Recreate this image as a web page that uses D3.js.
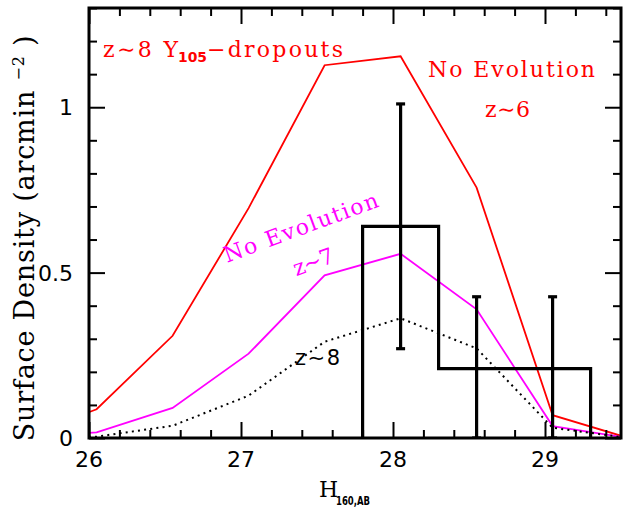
<!DOCTYPE html>
<html>
<head>
<meta charset="utf-8">
<script src="https://cdn.jsdelivr.net/npm/d3@7"></script>
<style>
  body { margin: 0; background: #fff; }
  svg { display: block; }
</style>
</head>
<body>
<svg id="chart" width="623" height="513"></svg>
<script>
// Model surface densities on the H160 magnitude grid (arcmin^-2)
const magGrid   = [25.55, 26.05, 26.55, 27.05, 27.55, 28.05, 28.55, 29.05, 29.55];
const noEvolZ6  = [0.0, 0.087, 0.309, 0.695, 1.127, 1.154, 0.757, 0.069, 0.0];
const noEvolZ7  = [0.0, 0.017, 0.091, 0.255, 0.492, 0.557, 0.389, 0.036, 0.0];
const modelZ8   = [0.0, 0.004, 0.037, 0.128, 0.291, 0.362, 0.271, 0.031, 0.0];

// Observed z~8 Y105-dropout surface densities
const binEdges   = [27.8, 28.3, 28.8, 29.3];
const binDensity = [0.64, 0.21, 0.21];
const binCenters = [28.05, 28.55, 29.05];
const errLow     = [0.27, 0.0, 0.0];
const errHigh    = [1.01, 0.427, 0.427];

// Axis ticks
const xTicks = [26, 27, 28, 29];
const xTickLabels = ["26", "27", "28", "29"];
const yTicks = [0, 0.5, 1];
const yTickLabels = ["0", "0.5", "1"];

const svg = d3.select("#chart");
const L = 89, R = 621, T = 8, B = 438;

const x = d3.scaleLinear().domain([26, 29.5]).range([L, R]);
const y = d3.scaleLinear().domain([0, 1.3]).range([B, T]);

const xMinor = d3.range(26, 29.51, 0.2).map(v => +v.toFixed(1)).filter(v => !xTicks.includes(v));
const yMinor = d3.range(0, 1.31, 0.1).map(v => +v.toFixed(1)).filter(v => !yTicks.includes(v));

svg.append("clipPath").attr("id", "plotClip")
  .append("rect").attr("x", L).attr("y", T).attr("width", R - L).attr("height", B - T);

const plot = svg.append("g").attr("clip-path", "url(#plotClip)");

const line = d3.line().x(d => x(d[0])).y(d => y(d[1]));
const pairs = vals => magGrid.map((m, i) => [m, vals[i]]);

plot.append("path").attr("d", line(pairs(noEvolZ6)))
  .attr("fill", "none").attr("stroke", "#ff0000").attr("stroke-width", 1.8);
plot.append("path").attr("d", line(pairs(noEvolZ7)))
  .attr("fill", "none").attr("stroke", "#ff00ff").attr("stroke-width", 1.8);
plot.append("path").attr("d", line(pairs(modelZ8)))
  .attr("fill", "none").attr("stroke", "#000").attr("stroke-width", 2)
  .attr("stroke-dasharray", "2 4.2");

// Stepped histogram of the observed densities
const steps = [[binEdges[0], 0]];
binDensity.forEach((v, i) => { steps.push([binEdges[i], v]); steps.push([binEdges[i + 1], v]); });
steps.push([binEdges[binEdges.length - 1], 0]);
plot.append("path").attr("d", line(steps))
  .attr("fill", "none").attr("stroke", "#000").attr("stroke-width", 3.2)
  .attr("stroke-linejoin", "miter");

// Error bars
const eb = plot.append("g").attr("stroke", "#000").attr("stroke-width", 3.2);
binCenters.forEach((c, i) => {
  eb.append("line").attr("x1", x(c)).attr("x2", x(c)).attr("y1", y(errLow[i])).attr("y2", y(errHigh[i]));
  [errLow[i], errHigh[i]].forEach(v => {
    eb.append("line").attr("x1", x(c) - 4.5).attr("x2", x(c) + 4.5).attr("y1", y(v)).attr("y2", y(v));
  });
});

// Inward ticks on all four sides
function ticks(axis, vals, size, transform) {
  const g = svg.append("g").attr("transform", transform)
    .call(axis.tickValues(vals).tickSize(-size).tickFormat(""));
  g.select(".domain").remove();
  g.selectAll(".tick line").attr("stroke", "#000").attr("stroke-width", 2);
  g.selectAll(".tick text").remove();
}
ticks(d3.axisBottom(x), xTicks, 16, `translate(0,${B})`);
ticks(d3.axisBottom(x), xMinor, 8, `translate(0,${B})`);
ticks(d3.axisTop(x), xTicks, 16, `translate(0,${T})`);
ticks(d3.axisTop(x), xMinor, 8, `translate(0,${T})`);
ticks(d3.axisLeft(y), yTicks, 16, `translate(${L},0)`);
ticks(d3.axisLeft(y), yMinor, 8, `translate(${L},0)`);
ticks(d3.axisRight(y), yTicks, 16, `translate(${R},0)`);
ticks(d3.axisRight(y), yMinor, 8, `translate(${R},0)`);

svg.append("rect").attr("x", L).attr("y", T).attr("width", R - L).attr("height", B - T)
  .attr("fill", "none").attr("stroke", "#000").attr("stroke-width", 3);

// Tick labels
const tickFont = "DejaVu Sans, sans-serif";
svg.append("g").selectAll("text").data(xTicks).join("text")
  .attr("x", d => x(d)).attr("y", 467)
  .attr("text-anchor", "middle").attr("font-family", tickFont).attr("font-size", 22)
  .text((d, i) => xTickLabels[i]);
svg.append("g").selectAll("text").data(yTicks).join("text")
  .attr("x", 73).attr("y", d => y(d) + 8)
  .attr("text-anchor", "end").attr("font-family", tickFont).attr("font-size", 22)
  .text((d, i) => yTickLabels[i]);

// Axis titles
const serif = "DejaVu Serif, serif";
const yt = svg.append("text")
  .attr("transform", "translate(34,238) rotate(-90)")
  .attr("text-anchor", "middle").attr("font-family", serif).attr("font-size", 27)
  .attr("letter-spacing", 0.8);
yt.append("tspan").text("Surface Density (arcmin ");
yt.append("tspan").attr("dy", -10).attr("font-size", 16).text("\u22122");
yt.append("tspan").attr("dy", 10).text(" )");

svg.append("text").attr("x", 319).attr("y", 497)
  .attr("font-family", serif).attr("font-size", 22).text("H");
svg.append("text").attr("x", 336).attr("y", 505)
  .attr("font-family", "DejaVu Sans, sans-serif").attr("font-weight", "bold").attr("font-size", 13)
  .attr("textLength", 34).attr("lengthAdjust", "spacingAndGlyphs").text("160,AB");

// Annotations
svg.append("text").attr("x", 103).attr("y", 57).attr("fill", "#ff0000")
  .attr("font-family", serif).attr("font-size", 22)
  .attr("textLength", 75).attr("lengthAdjust", "spacing").text("z\u223C8 Y");
svg.append("text").attr("x", 178).attr("y", 62).attr("fill", "#ff0000")
  .attr("font-family", "DejaVu Sans, sans-serif").attr("font-weight", "bold").attr("font-size", 14)
  .attr("textLength", 29).attr("lengthAdjust", "spacingAndGlyphs").text("105");
svg.append("text").attr("x", 207).attr("y", 57).attr("fill", "#ff0000")
  .attr("font-family", serif).attr("font-size", 22)
  .attr("textLength", 136).attr("lengthAdjust", "spacing").text("\u2212dropouts");

svg.append("text").attr("x", 511.5).attr("y", 77).attr("fill", "#ff0000")
  .attr("text-anchor", "middle").attr("font-family", serif).attr("font-size", 22)
  .attr("textLength", 167).attr("lengthAdjust", "spacing").text("No Evolution");
svg.append("text").attr("x", 507.5).attr("y", 117).attr("fill", "#ff0000")
  .attr("text-anchor", "middle").attr("font-family", serif).attr("font-size", 22)
  .attr("textLength", 45).attr("lengthAdjust", "spacing").text("z\u223C6");

svg.append("text").attr("transform", "translate(303.5,234.5) rotate(-20.3)")
  .attr("fill", "#ff00ff").attr("text-anchor", "middle").attr("font-family", serif).attr("font-size", 22)
  .attr("textLength", 163).attr("lengthAdjust", "spacing").text("No Evolution");
svg.append("text").attr("transform", "translate(316,269) rotate(-20.3)")
  .attr("fill", "#ff00ff").attr("text-anchor", "middle").attr("font-family", serif).attr("font-size", 22)
  .attr("textLength", 42).attr("lengthAdjust", "spacing").text("z\u223C7");

svg.append("text").attr("x", 295).attr("y", 365).attr("fill", "#000")
  .attr("font-family", "DejaVu Sans, sans-serif").attr("font-size", 21)
  .attr("textLength", 45).attr("lengthAdjust", "spacing").text("z\u223C8");
</script>
</body>
</html>
